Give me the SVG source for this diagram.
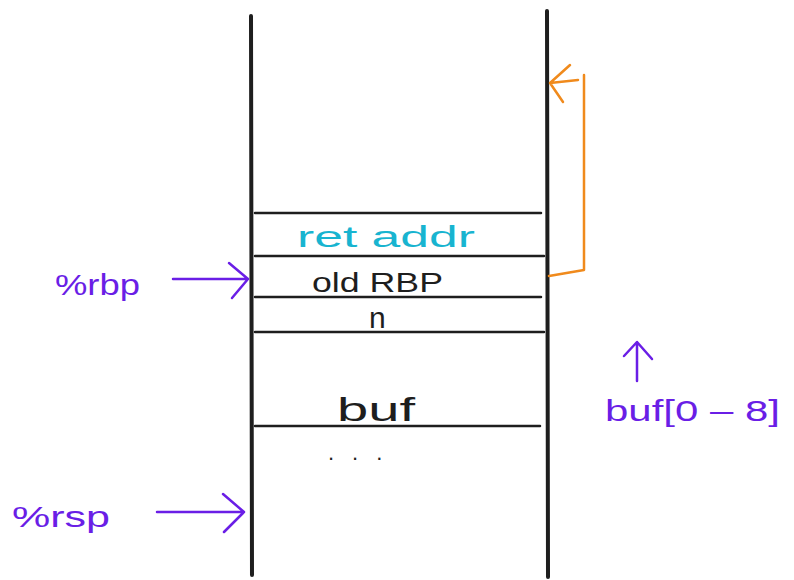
<svg xmlns="http://www.w3.org/2000/svg" width="794" height="580" viewBox="0 0 794 580">
<style>
.wall{stroke:#1e1e1e;stroke-width:4;stroke-linecap:round;fill:none}
.row{stroke:#1e1e1e;stroke-width:2.5;stroke-linecap:round;fill:none}
.purple{stroke:#6a1ee6;stroke-width:2.5;stroke-linecap:round;stroke-linejoin:round;fill:none}
.orange{stroke:#f08a1c;stroke-width:2.5;stroke-linecap:round;stroke-linejoin:round;fill:none}
.t{font-family:"Liberation Sans",Arial,sans-serif;fill:#1e1e1e}
.tp{font-family:"Liberation Sans",Arial,sans-serif;fill:#6a1ee6}
.tc{font-family:"Liberation Sans",Arial,sans-serif;fill:#18b4d0}
</style>
<rect width="794" height="580" fill="#ffffff"/>
<g id="stack">
<path class="wall" d="M251 16 L252 575"/>
<path class="wall" d="M547 11 L548 577"/>
</g>
<g id="rows">
<path class="row" d="M255 213 L541 213"/>
<path class="row" d="M255 256 L544 256"/>
<path class="row" d="M255 297 L541 297"/>
<path class="row" d="M255 332 L544 332"/>
<path class="row" d="M255 426 L540 426"/>
</g>
<g id="ret-addr"><text class="tc" x="297" y="247" font-size="30" textLength="178" lengthAdjust="spacingAndGlyphs">ret addr</text></g>
<g id="old-rbp"><text class="t" x="312" y="292" font-size="27" textLength="131" lengthAdjust="spacingAndGlyphs">old RBP</text></g>
<g id="n"><text class="t" x="369" y="328" font-size="30">n</text></g>
<g id="buf"><text class="t" x="337" y="421" font-size="34" textLength="78" lengthAdjust="spacingAndGlyphs">buf</text></g>
<g id="dots"><text class="t" x="328" y="460" font-size="22" letter-spacing="18">...</text></g>
<g id="rbp-label"><text class="tp" x="55" y="295" font-size="30" textLength="85" lengthAdjust="spacingAndGlyphs">%rbp</text></g>
<g id="rsp-label"><text class="tp" x="12" y="527" font-size="30" textLength="98" lengthAdjust="spacingAndGlyphs">%rsp</text></g>
<g id="buf-range"><text class="tp" x="605" y="421" font-size="30" textLength="175" lengthAdjust="spacingAndGlyphs">buf[0 – 8]</text></g>
<g id="connectors">
<path class="purple" d="M173 279 L248 279 M229 263 L248 279 L232 298"/>
<path class="purple" d="M157 512 L244 512 M223 494 L244 512 L224 532"/>
<path class="purple" d="M637 381 L637 343 M624 356 L637 342 L652 359"/>
<path class="orange" d="M549 276 L584 270 L584 75"/>
<path class="orange" d="M578 80 L550 83 M570 65 L550 83 L563 102"/>
</g>
</svg>
